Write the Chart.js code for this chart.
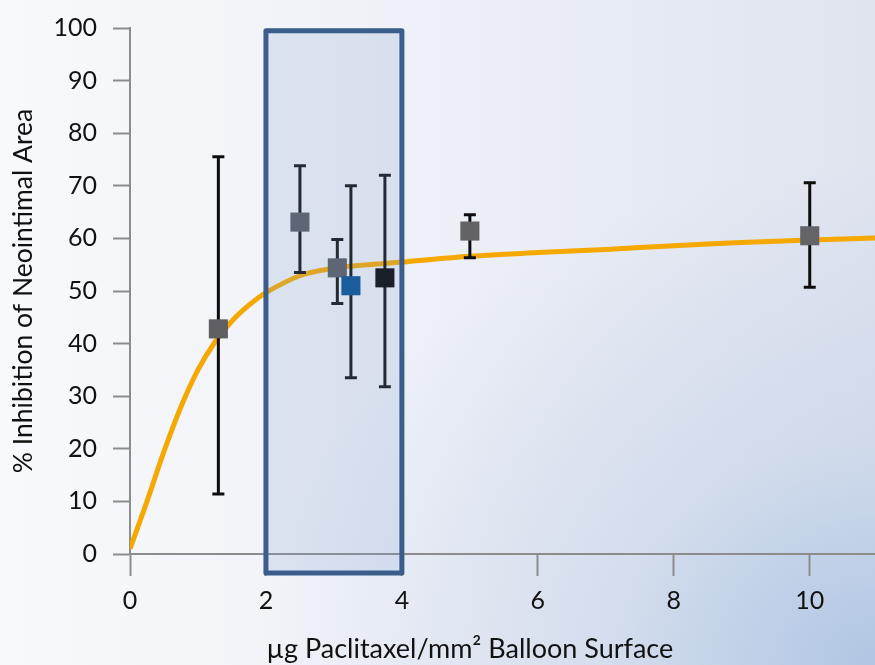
<!DOCTYPE html>
<html>
<head>
<meta charset="utf-8">
<script src="https://cdn.jsdelivr.net/npm/chart.js@4.4.1/dist/chart.umd.min.js"></script>
<style>
    html, body { margin: 0; padding: 0; }
    body {
        width: 875px;
        height: 665px;
        overflow: hidden;
        background:
            radial-gradient(ellipse 70% 75% at 100% 100%, rgba(172, 195, 226, 0.9) 0%, rgba(190, 206, 230, 0.45) 45%, rgba(255, 255, 255, 0) 100%),
            linear-gradient(to right, #f8f9fc 0%, #eef1f7 45%, #dfe4ef 100%);
    }
    .chart-container { position: relative; width: 875px; height: 665px; }
</style>
</head>
<body>
<div class="chart-container">
    <canvas id="doseChart" width="875" height="665"></canvas>
</div>
<script>
// Measured points (µg/mm² vs % inhibition) with error bar ends
const doses      = [1.3, 2.5, 3.05, 3.25, 3.75, 5, 10];
const inhibition = [42.8, 63.1, 54.4, 51, 52.5, 61.4, 60.5];
const errLow     = [11.4, 53.5, 47.6, 33.5, 31.8, 56.3, 50.7];
const errHigh    = [75.5, 73.8, 59.8, 70, 72, 64.5, 70.6];
// squares inside the window get tinted by the overlay, so they start darker
const markerColors = ['#5f5f63', '#545860', '#545860', '#004c90', '#000000', '#636366', '#636368'];

// dose-response curve
const curveX = [0, 0.25, 0.5, 0.75, 1, 1.25, 1.5, 1.75, 2, 2.5, 3, 3.5, 4, 5, 6, 7, 8, 9, 10, 11];
const curveY = [1, 10, 19.5, 28, 35, 40.3, 44.3, 47.3, 49.7, 52.9, 54.3, 55, 55.5, 56.6, 57.3, 57.9, 58.6, 59.2, 59.7, 60.1];

// highlighted dose window
const windowX = [2, 4];
const windowY = [-3.6, 99.5];

const xAxisTitle = 'µg Paclitaxel/mm² Balloon Surface';
const yAxisTitle = '% Inhibition of Neointimal Area';

const FONT = 'Lato, "Open Sans", sans-serif';
const AXIS_GREY = '#8c8c8c';

// error bars go on top of the curve, under the squares
const errorBars = {
    id: 'errorBars',
    afterDatasetDraw(chart, args) {
        if (args.index !== 0) return;
        const { ctx, scales: { x, y } } = chart;
        ctx.save();
        ctx.strokeStyle = '#0d0d0d';
        ctx.lineWidth = 3;
        doses.forEach((d, i) => {
            const px = x.getPixelForValue(d);
            const top = y.getPixelForValue(errHigh[i]);
            const bot = y.getPixelForValue(errLow[i]);
            ctx.beginPath();
            ctx.moveTo(px, top); ctx.lineTo(px, bot);
            ctx.moveTo(px - 6, top); ctx.lineTo(px + 6, top);
            ctx.moveTo(px - 6, bot); ctx.lineTo(px + 6, bot);
            ctx.stroke();
        });
        ctx.restore();
    }
};

// translucent box over the 2-4 µg/mm² window, plus the x axis title
const overlay = {
    id: 'overlay',
    afterDatasetsDraw(chart) {
        const { ctx, scales: { x, y } } = chart;
        const l = x.getPixelForValue(windowX[0]);
        const r = x.getPixelForValue(windowX[1]);
        const t = y.getPixelForValue(windowY[1]);
        const b = y.getPixelForValue(windowY[0]);
        ctx.save();
        ctx.fillStyle = 'rgba(128, 160, 206, 0.2)';
        ctx.fillRect(l, t, r - l, b - t);
        ctx.strokeStyle = '#3a5d8c';
        ctx.lineWidth = 5;
        ctx.lineJoin = 'round';
        ctx.strokeRect(l, t, r - l, b - t);
        ctx.restore();
    },
    afterDraw(chart) {
        const { ctx, scales: { x } } = chart;
        ctx.save();
        ctx.font = '27px ' + FONT;
        ctx.fillStyle = '#111111';
        ctx.textAlign = 'center';
        ctx.textBaseline = 'middle';
        ctx.fillText(xAxisTitle, x.getPixelForValue(5), 649);
        ctx.restore();
    }
};

new Chart(document.getElementById('doseChart').getContext('2d'), {
    type: 'scatter',
    data: {
        datasets: [{
            type: 'line',
            data: curveX.map((v, i) => ({ x: v, y: curveY[i] })),
            borderColor: '#f5a800',
            borderWidth: 5,
            pointRadius: 0,
            tension: 0.35,
            fill: false,
            order: 2
        }, {
            data: doses.map((v, i) => ({ x: v, y: inhibition[i] })),
            pointStyle: 'rect',
            pointRadius: 13.5,
            pointBackgroundColor: markerColors,
            pointBorderWidth: 0,
            order: 1
        }]
    },
    options: {
        responsive: false,
        animation: false,
        layout: { autoPadding: false, padding: { top: 28, right: 0, left: 0, bottom: 0 } },
        plugins: {
            legend: { display: false },
            tooltip: { enabled: false }
        },
        scales: {
            x: {
                type: 'linear',
                min: 0,
                max: 10.96,
                ticks: {
                    stepSize: 2,
                    includeBounds: false,
                    padding: 10,
                    color: '#111111',
                    font: { family: FONT, size: 25 }
                },
                grid: {
                    drawOnChartArea: false,
                    drawTicks: true,
                    tickLength: 22,
                    tickColor: AXIS_GREY,
                    tickWidth: 2
                },
                border: { color: AXIS_GREY, width: 2 },
                afterFit(scale) {
                    scale.height = 111;
                    scale.paddingLeft = 0;
                    scale.paddingRight = 0;
                }
            },
            y: {
                min: 0,
                max: 100,
                ticks: {
                    stepSize: 10,
                    padding: 16,
                    color: '#111111',
                    font: { family: FONT, size: 25 }
                },
                grid: {
                    drawOnChartArea: false,
                    drawTicks: true,
                    tickLength: 17,
                    tickColor: AXIS_GREY,
                    tickWidth: 2
                },
                border: { color: AXIS_GREY, width: 2 },
                title: {
                    display: true,
                    text: yAxisTitle,
                    color: '#111111',
                    font: { family: FONT, size: 26.5 },
                    padding: { top: 8 }
                },
                afterFit(scale) {
                    scale.width = 130;
                    scale.paddingTop = 0;
                    scale.paddingBottom = 0;
                }
            }
        }
    },
    plugins: [errorBars, overlay]
});
</script>
</body>
</html>
